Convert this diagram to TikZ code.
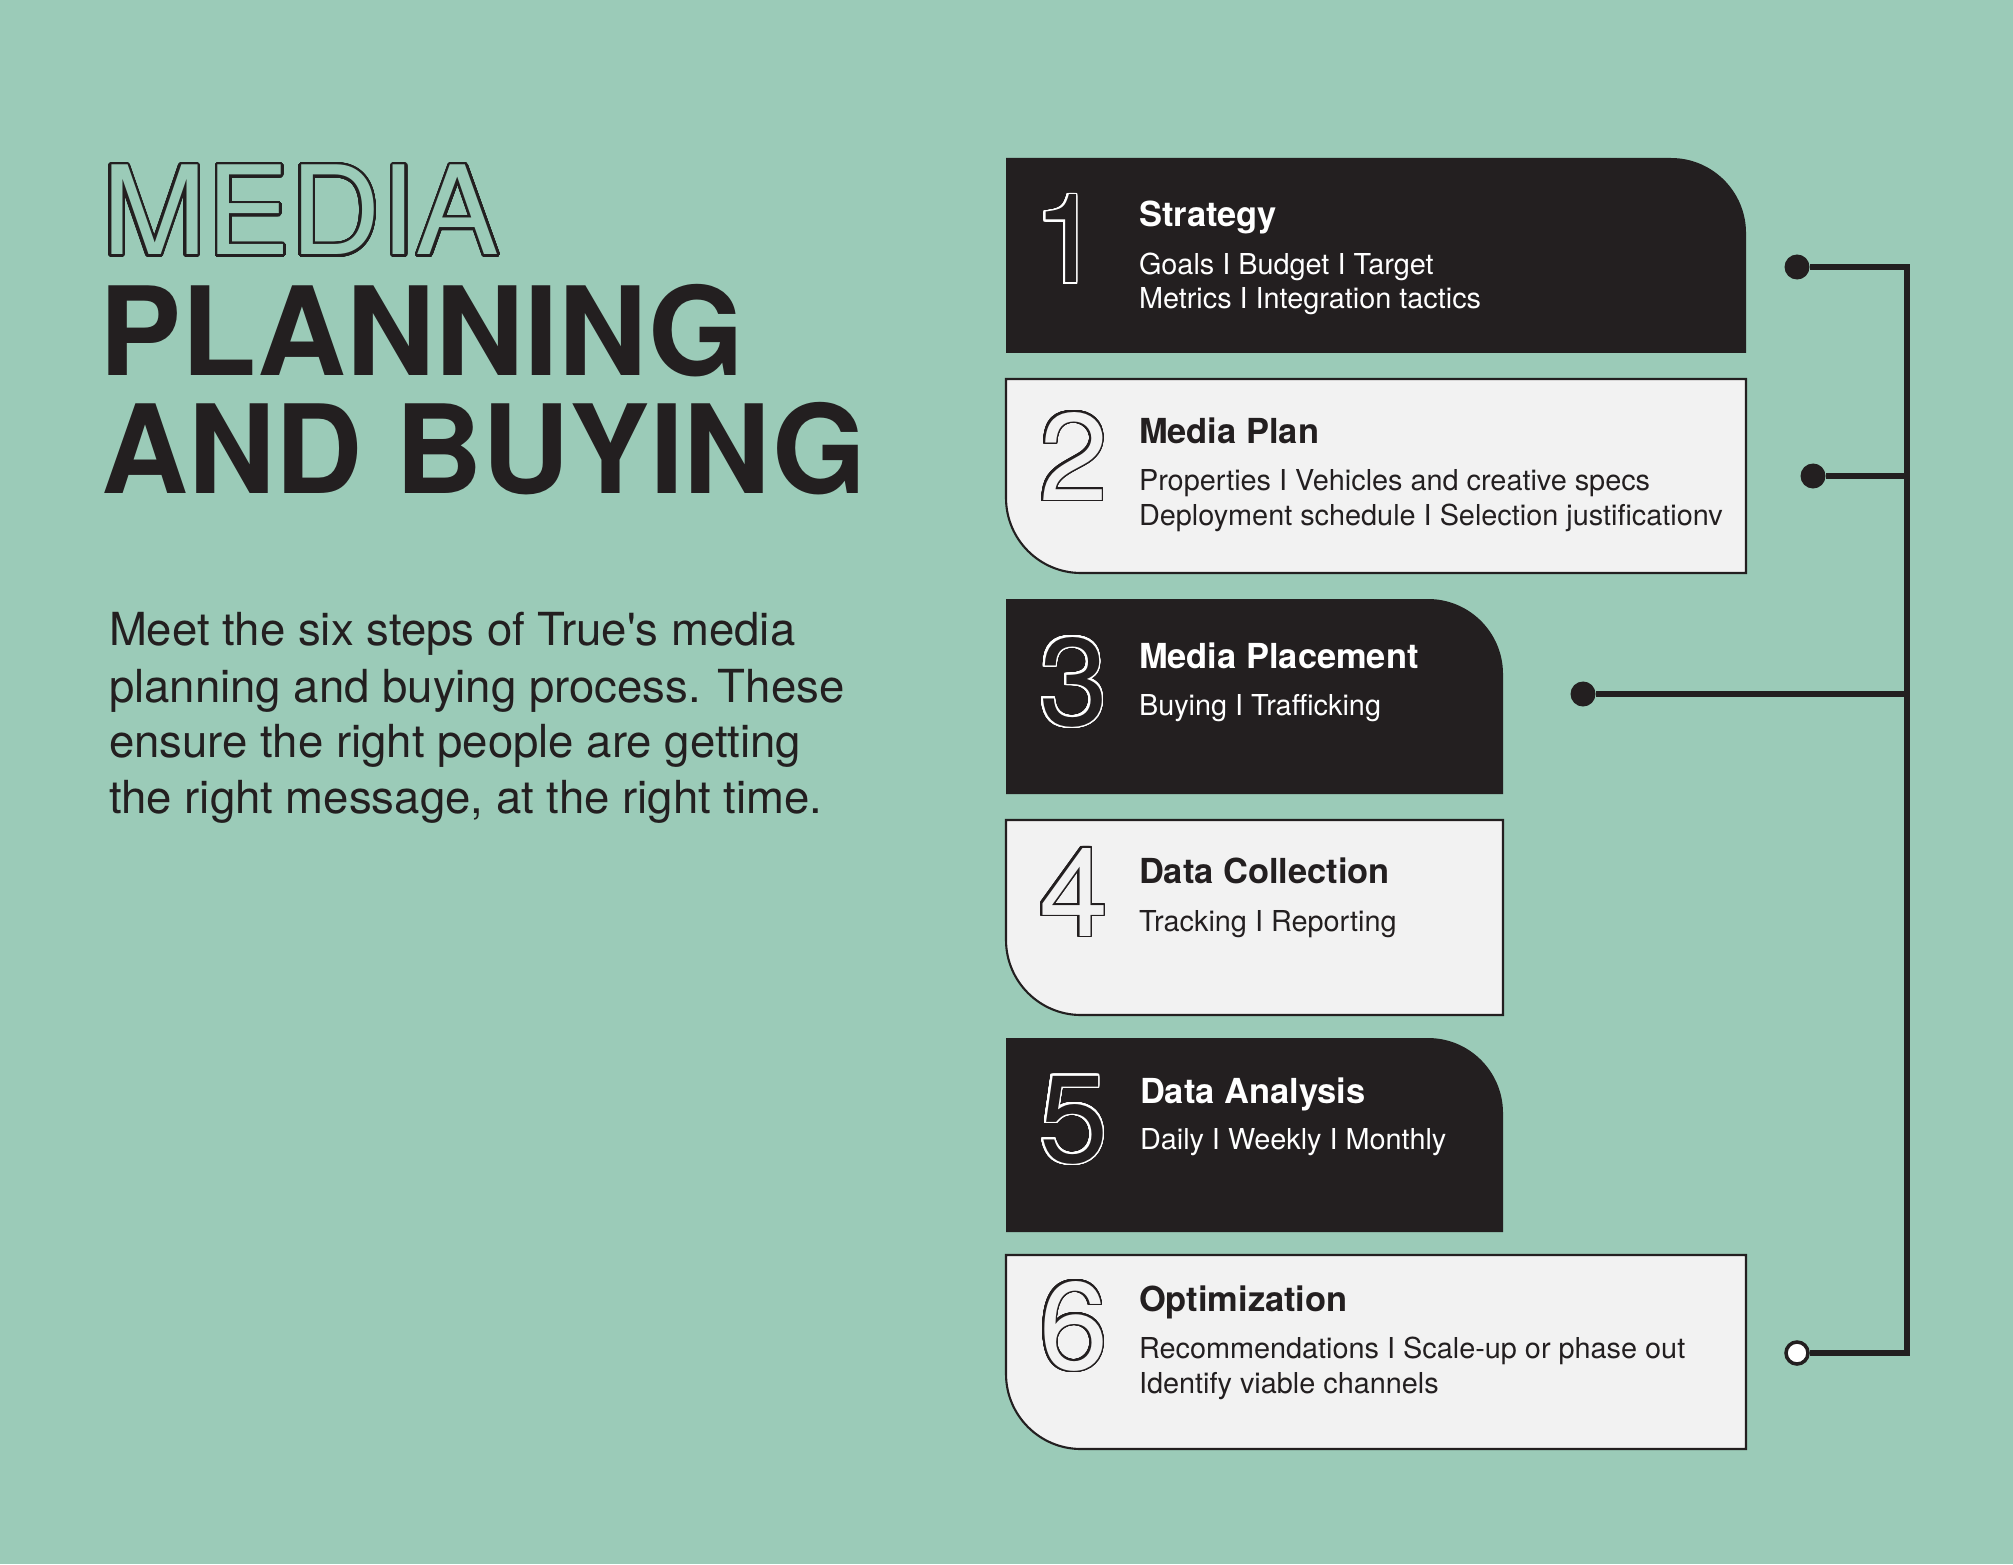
\documentclass[tikz,border=0pt]{standalone}
\usepackage{fontspec}
\setmainfont{TeX Gyre Heros}
\usepackage{graphicx}
\usepackage[copies]{contour}
\contournumber{48}
\definecolor{bg}{HTML}{9BCBB8}
\definecolor{ink}{HTML}{231F20}
\definecolor{paper}{HTML}{F2F2F2}
\tikzset{
  txt/.style={anchor=base west, inner sep=0pt, outer sep=0pt},
  outlinetitle/.style={txt, font=\fontsize{35}{35}\selectfont},
  bigtitle/.style={txt, font=\bfseries\fontsize{35}{35}\selectfont, text=ink},
  steptitle/.style={txt, font=\bfseries\fontsize{9.8}{11}\selectfont},
  stepbody/.style={txt, font=\fontsize{8.2}{10}\selectfont},
  para/.style={txt, font=\fontsize{12.95}{15}\selectfont, text=ink},
  digit/.style={txt, font=\fontsize{35.3}{36}\selectfont},
  darkbox/.style={fill=ink},
  lightbox/.style={fill=paper, draw=ink, line width=0.6pt},
  conn/.style={draw=ink, line width=1.6pt, line join=miter},
  dotfull/.style={circle, fill=ink, inner sep=0pt, minimum size=0.25cm},
  dotopen/.style={circle, fill=white, draw=ink, line width=1pt, inner sep=0pt, minimum size=0.22cm},
}
\begin{document}
\begin{tikzpicture}[x=0.01cm, y=-0.01cm]
\useasboundingbox (0,0) rectangle (2013,1564);
\fill[bg] (0,0) rectangle (2013,1564);

% ---- left title ----
\node[outlinetitle] (t1) at (102,255) {\contourlength{0.7pt}\contour{ink}{\textcolor{bg}{\scalebox{1.02}[1]{MEDIA}}}};
\node[bigtitle] (t2) at (99,375) {PLANNING};
\node[bigtitle] (t3) at (101,493) {\scalebox{0.98}[1]{AND BUYING}};

\node[para] (p1) at (109,645) {Meet the six steps of True\textquotesingle s media};
\node[para] (p2) at (109,702) {planning and buying process. These};
\node[para] (p3) at (109,757) {ensure the right people are getting};
\node[para] (p4) at (109,813) {the right message, at the right time.};

% ---- boxes ----
\fill[darkbox] (1006,158) -- (1671,158) .. controls (1712.4,158) and (1746,191.6) .. (1746,233) -- (1746,353) -- (1006,353) -- cycle;
\filldraw[lightbox] (1006,379) -- (1746,379) -- (1746,573) -- (1081,573) .. controls (1039.6,573) and (1006,539.4) .. (1006,498) -- cycle;
\fill[darkbox] (1006,599) -- (1428,599) .. controls (1469.4,599) and (1503,632.6) .. (1503,674) -- (1503,794) -- (1006,794) -- cycle;
\filldraw[lightbox] (1006,820) -- (1503,820) -- (1503,1015) -- (1081,1015) .. controls (1039.6,1015) and (1006,981.4) .. (1006,940) -- cycle;
\fill[darkbox] (1006,1038) -- (1428,1038) .. controls (1469.4,1038) and (1503,1071.6) .. (1503,1113) -- (1503,1232) -- (1006,1232) -- cycle;
\filldraw[lightbox] (1006,1255) -- (1746,1255) -- (1746,1449) -- (1081,1449) .. controls (1039.6,1449) and (1006,1415.4) .. (1006,1374) -- cycle;

% ---- digits ----
\node[digit] (n1) at (1033,283) {\contourlength{0.5pt}\contour{white}{\textcolor{ink}{1}}};
\node[digit] (n2) at (1039,500) {\contourlength{0.5pt}\contour{ink}{\textcolor{paper}{2}}};
\node[digit] (n3) at (1039,725) {\contourlength{0.5pt}\contour{white}{\textcolor{ink}{3}}};
\node[digit] (n4) at (1039,936) {\contourlength{0.5pt}\contour{ink}{\textcolor{paper}{4}}};
\node[digit] (n5) at (1039,1162) {\contourlength{0.5pt}\contour{white}{\textcolor{ink}{5}}};
\node[digit] (n6) at (1039,1369) {\contourlength{0.5pt}\contour{ink}{\textcolor{paper}{6}}};

% ---- step texts ----
\node[steptitle, text=white] (s1) at (1139,227) {Strategy};
\node[stepbody, text=white] (b1a) at (1139,275) {Goals I Budget I Target};
\node[stepbody, text=white] (b1b) at (1139,309) {Metrics I Integration tactics};

\node[steptitle, text=ink] (s2) at (1139,443) {Media Plan};
\node[stepbody, text=ink] (b2a) at (1139,490) {Properties I Vehicles and creative specs};
\node[stepbody, text=ink] (b2b) at (1139,525) {Deployment schedule I Selection justificationv};

\node[steptitle, text=white] (s3) at (1139,668) {Media Placement};
\node[stepbody, text=white] (b3a) at (1139,715) {Buying I Trafficking};

\node[steptitle, text=ink] (s4) at (1139,883) {Data Collection};
\node[stepbody, text=ink] (b4a) at (1139,931) {Tracking I Reporting};

\node[steptitle, text=white] (s5) at (1140,1103) {Data Analysis};
\node[stepbody, text=white] (b5a) at (1140,1149) {Daily I Weekly I Monthly};

\node[steptitle, text=ink] (s6) at (1139,1311) {Optimization};
\node[stepbody, text=ink] (b6a) at (1139,1358) {Recommendations I Scale-up or phase out};
\node[stepbody, text=ink] (b6b) at (1139,1393) {Identify viable channels};

% ---- connectors ----
\node[dotfull] (d1) at (1797,267) {};
\node[dotfull] (d2) at (1813,476) {};
\node[dotfull] (d3) at (1583,694) {};
\node[dotopen] (d6) at (1797,1353) {};
\coordinate (jt) at (1907,267);
\coordinate (j2) at (1907,476);
\coordinate (j3) at (1907,694);
\coordinate (jb) at (1907,1353);
\draw[conn] (d1) -- (jt) -- (jb) -- (d6);
\draw[conn] (d2) -- (j2);
\draw[conn] (d3) -- (j3);
\end{tikzpicture}
\end{document}
